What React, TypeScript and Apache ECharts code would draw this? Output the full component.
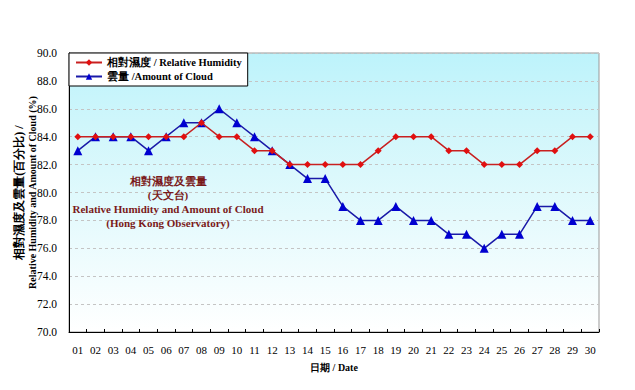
import React, { useEffect, useRef } from "react";
import * as echarts from "echarts";

const dates = ["01","02","03","04","05","06","07","08","09","10","11","12","13","14","15","16","17","18","19","20","21","22","23","24","25","26","27","28","29","30"];
const humidity = [84,84,84,84,84,84,84,85,84,84,83,83,82,82,82,82,82,83,84,84,84,83,83,82,82,82,83,83,84,84];
const cloud = [83,84,84,84,83,84,85,85,86,85,84,83,82,81,81,79,78,78,79,78,78,77,77,76,77,77,79,79,78,78];
const annotation = ["相對濕度及雲量", "(天文台)", "Relative Humidity and Amount of Cloud", "(Hong Kong Observatory)"];

export default function App() {
  const ref = useRef<HTMLDivElement>(null);
  useEffect(() => {
    const chart = echarts.init(ref.current!, null, { renderer: "svg" });
    const serif = "'Liberation Serif', 'DejaVu Serif', serif";
    chart.setOption({
      animation: false,
      backgroundColor: "#ffffff",
      grid: {
        left: 69, right: 36, top: 53, bottom: 58,
        outerBoundsMode: "none",
        containLabel: false,
        show: true,
        borderColor: "#999999",
        borderWidth: 1,
        backgroundColor: new echarts.graphic.LinearGradient(0, 0, 0, 1, [
          { offset: 0, color: "#bdf3fb" },
          { offset: 0.25, color: "#cff6fb" },
          { offset: 1, color: "#ffffff" },
        ]),
      },
      legend: {
        left: 69, top: 53, orient: "vertical", itemGap: 3,
        itemWidth: 26, itemHeight: 8,
        backgroundColor: "#ffffff", borderColor: "#000000", borderWidth: 1,
        padding: [4, 6, 4, 6],
        textStyle: { fontFamily: serif, fontSize: 10.5, fontWeight: "bold", color: "#000" },
        data: [
          { name: "相對濕度 / Relative Humidity" },
          { name: "雲量 /Amount of Cloud" },
        ],
      },
      xAxis: {
        type: "category",
        data: dates,
        boundaryGap: true,
        name: "日期 / Date",
        nameLocation: "middle",
        nameGap: 30,
        nameMoveOverlap: false,
        nameTextStyle: { fontFamily: serif, fontSize: 10, fontWeight: "bold", color: "#000" },
        axisLine: { lineStyle: { color: "#000", width: 1 } },
        axisTick: { show: true, inside: true, alignWithLabel: false, length: 3, lineStyle: { color: "#000" } },
        axisLabel: { fontFamily: serif, fontSize: 11, color: "#000", margin: 12 },
      },
      yAxis: {
        type: "value",
        min: 70, max: 90, interval: 2,
        name: "{a|相對濕度及雲量(百分比) /}\n{b|Relative Humidity and Amount of Cloud (%)}",
        nameLocation: "middle",
        nameGap: 30,
        nameMoveOverlap: false,
        nameTextStyle: {
          fontFamily: serif, fontWeight: "bold", color: "#000",
          rich: {
            a: { fontFamily: serif, fontSize: 12, fontWeight: "bold", color: "#000", lineHeight: 14 },
            b: { fontFamily: serif, fontSize: 10, fontWeight: "bold", color: "#000", lineHeight: 13 },
          },
        },
        axisLine: { show: true, lineStyle: { color: "#000", width: 1 } },
        axisTick: { show: false },
        axisLabel: { fontFamily: serif, fontSize: 11.5, color: "#000", formatter: (v: number) => v.toFixed(1), margin: 12 },
        splitLine: { show: true, lineStyle: { color: "#c4c4c4", type: [3, 3], width: 1 } },
      },
      series: [
        {
          name: "相對濕度 / Relative Humidity",
          type: "line",
          data: humidity,
          symbol: "diamond",
          symbolSize: 7,
          lineStyle: { color: "#c82020", width: 1.5 },
          itemStyle: { color: "#e01010" },
          z: 3,
        },
        {
          name: "雲量 /Amount of Cloud",
          type: "line",
          data: cloud,
          symbol: "triangle",
          symbolSize: 9,
          lineStyle: { color: "#1a1aa8", width: 1.5 },
          itemStyle: { color: "#0000d0" },
          z: 2,
        },
      ],
      graphic: annotation.map((t, i) => ({
        type: "text",
        x: 168,
        y: 175 + i * 14,
        z: 10,
        style: {
          text: t,
          fill: "#7a1a1a",
          font: `bold 11px ${serif}`,
          textAlign: "center",
          align: "center",
        },
      })),
    });
    return () => chart.dispose();
  }, []);
  return <div ref={ref} style={{ width: 635, height: 390, margin: -8 }} />;
}
